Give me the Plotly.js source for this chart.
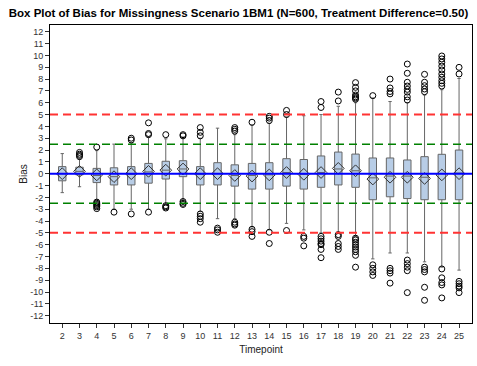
<!DOCTYPE html>
<html>
<head>
<meta charset="utf-8">
<script src="https://cdn.plot.ly/plotly-3.0.1.min.js"></script>
<style>html,body{margin:0;padding:0;background:#fff;}#chart{width:477px;height:366px;}</style>
</head>
<body>
<div id="chart"></div>
<script>
const timepoints = [2,3,4,5,6,7,8,9,10,11,12,13,14,15,16,17,18,19,20,21,22,23,24,25];
const q1Values     = [-0.6,-0.1,-0.75,-0.95,-0.95,-0.8,-0.45,-0.25,-0.95,-0.95,-1.05,-1.3,-1.3,-1.05,-1.3,-1.15,-0.95,-1.15,-2.2,-1.95,-2.1,-2.2,-2.2,-2.2];
const medianValues = [0.0,0.2,-0.15,-0.25,-0.05,0.15,0.3,0.4,-0.05,0.0,-0.15,-0.15,-0.1,0.1,-0.05,0.1,0.4,0.25,-0.35,-0.2,-0.2,-0.3,0.0,0.05];
const q3Values     = [0.6,0.55,0.45,0.5,0.6,0.87,1.05,1.1,0.6,0.93,0.75,0.87,0.93,1.27,1.2,1.5,1.83,1.66,1.33,1.33,1.16,1.44,1.64,2.0];
const lowerWhisker = [-1.6,-1.1,-2.2,-3.0,-3.0,-3.0,-2.6,-2.2,-3.2,-3.8,-3.8,-4.5,-4.75,-4.2,-4.75,-5.0,-5.0,-5.3,-7.2,-6.7,-6.7,-7.45,-7.9,-8.15];
const upperWhisker = [1.7,1.2,1.95,2.5,2.6,3.1,2.95,3.1,3.0,3.85,3.3,4.1,4.25,4.8,4.9,5.0,5.7,6.0,6.4,6.1,6.0,6.65,7.1,8.05];
const meanValues   = [0.0,0.2,-0.1,-0.25,0.0,0.2,0.3,0.4,0.0,0.0,-0.15,-0.2,-0.1,0.1,-0.05,0.1,0.45,0.25,-0.45,-0.3,-0.3,-0.4,-0.1,0.0];
const outlierValues = [
  [],
  [1.45,1.55,1.65,1.8],
  [2.25,-2.4,-2.5,-2.6,-2.7,-2.8,-2.95],
  [-3.25],
  [2.85,3.0,-3.4],
  [3.3,3.4,4.3,-3.25],
  [3.3,-2.7,-2.8,-2.9],
  [3.2,3.3,-2.35,-2.5,-2.6],
  [3.2,3.5,3.9,-3.4,-3.6,-3.8,-4.1],
  [-4.6,-4.75,-4.95],
  [3.6,3.75,3.9,-4.1,-4.25,-4.35],
  [4.35,-4.7,-4.9,-5.3],
  [4.5,4.7,4.85,-4.95,-5.9],
  [5.0,5.35,-4.8],
  [-5.3,-5.45,-6.1],
  [5.6,6.1,-5.3,-5.5,-5.7,-5.9,-6.0,-6.4,-7.1],
  [6.15,6.9,-5.15,-5.3,-5.9,-6.15,-6.4],
  [6.3,6.4,6.5,6.65,7.0,7.3,7.7,-5.45,-5.6,-5.8,-6.0,-6.2,-6.4,-6.6,-6.9,-7.9],
  [6.6,-7.7,-8.0,-8.3,-8.6],
  [6.75,6.95,7.25,8.0,-8.0,-8.2,-8.4,-9.25],
  [6.23,6.5,6.9,7.13,7.41,7.73,8.49,9.27,-7.3,-7.6,-7.9,-8.2,-10.05],
  [6.93,7.16,7.44,7.73,8.4,-7.9,-8.1,-8.3,-9.6,-10.7],
  [7.41,7.64,7.86,8.15,8.43,8.77,9.1,9.42,9.7,9.95,-8.05,-8.8,-9.2,-9.4,-10.5],
  [8.43,8.99,-9.1,-9.3,-9.5,-9.65,-10.05]
];
const refLines = [
  {value: 5, color: '#ff3333', dash: '8px,5px', width: 2},
  {value: -5, color: '#ff3333', dash: '8px,5px', width: 2},
  {value: 2.5, color: '#008000', dash: '8px,5px', width: 1.5},
  {value: -2.5, color: '#008000', dash: '8px,5px', width: 1.5},
  {value: 0, color: '#0000ff', dash: 'solid', width: 2}
];
const yTicks = [];
for (let v = -12; v <= 12; v++) yTicks.push(v);

const outX = [], outY = [];
timepoints.forEach((t, i) => outlierValues[i].forEach(v => { outX.push(t); outY.push(v); }));

const traces = [
  {
    type: 'box', x: timepoints, q1: q1Values, median: medianValues, q3: q3Values,
    lowerfence: lowerWhisker, upperfence: upperWhisker,
    boxpoints: false, width: 0.43, whiskerwidth: 0.45,
    fillcolor: '#b8cde6', line: {color: '#666666', width: 1}, hoverinfo: 'skip', showlegend: false
  },
  {
    type: 'scatter', mode: 'markers', x: outX, y: outY, showlegend: false,
    marker: {symbol: 'circle-open', size: 6, color: '#000000', line: {width: 1, color: '#000000'}}
  },
  {
    type: 'scatter', mode: 'markers', x: timepoints, y: meanValues, showlegend: false,
    marker: {symbol: 'diamond-open', size: 9, color: '#333333', line: {width: 1, color: '#333333'}}
  }
];

const shapes = refLines.map(r => ({
  type: 'line', xref: 'paper', x0: 0, x1: 1, yref: 'y', y0: r.value, y1: r.value,
  line: {color: r.color, width: r.width, dash: r.dash}, layer: 'above'
}));

const layout = {
  width: 477, height: 366,
  margin: {l: 50, r: 5, t: 25, b: 43},
  paper_bgcolor: '#ffffff', plot_bgcolor: '#ffffff',
  font: {family: 'Liberation Sans, Arial, sans-serif', color: '#333333'},
  title: {text: '<b>Box Plot of Bias for Missingness Scenario 1BM1 (N=600, Treatment Difference=0.50)</b>',
          x: 0.5, xanchor: 'center', y: 0.965, yanchor: 'middle',
          font: {size: 11.5, color: '#000000', family: 'Liberation Sans, Arial, sans-serif'}},
  xaxis: {
    type: 'linear', range: [1.29, 25.75], tickmode: 'array', tickvals: timepoints,
    ticktext: timepoints.map(String), showgrid: false, zeroline: false,
    showline: true, mirror: true, linecolor: '#000000', linewidth: 1,
    ticks: 'outside', ticklen: 4, tickcolor: '#333333', tickfont: {size: 9, color: '#333333'},
    title: {text: 'Timepoint', font: {size: 10, color: '#222222'}, standoff: 6}
  },
  yaxis: {
    range: [-12.62, 12.57], tickmode: 'array', tickvals: yTicks, ticktext: yTicks.map(String),
    showgrid: false, zeroline: false,
    showline: true, mirror: true, linecolor: '#000000', linewidth: 1,
    ticks: 'outside', ticklen: 4, tickcolor: '#333333', tickfont: {size: 9, color: '#333333'},
    title: {text: 'Bias', font: {size: 10, color: '#222222'}, standoff: 0}
  },
  shapes: shapes,
  showlegend: false
};

Plotly.newPlot('chart', traces, layout, {displayModeBar: false, staticPlot: true});
</script>
</body>
</html>
